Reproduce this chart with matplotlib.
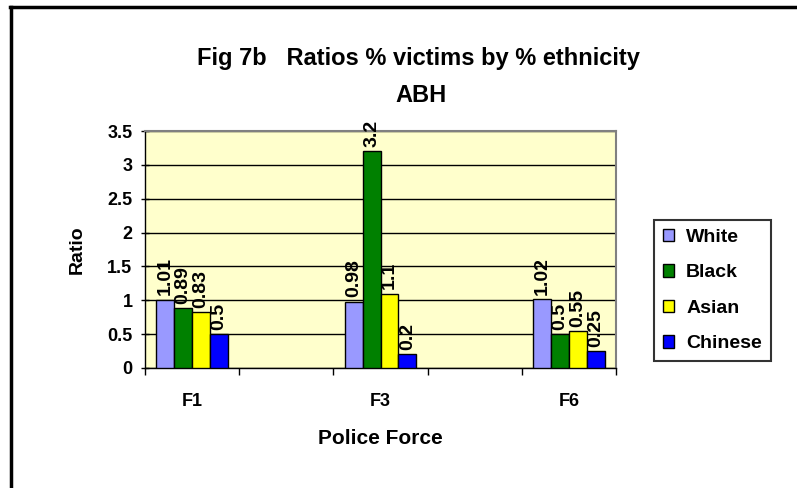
import matplotlib.pyplot as plt
import numpy as np
from matplotlib.patches import Patch
from matplotlib.lines import Line2D

plt.rcParams['font.family'] = ['Liberation Sans', 'DejaVu Sans']
plt.rcParams['font.weight'] = 'bold'

forces = ['F1', 'F3', 'F6']
groups = ['White', 'Black', 'Asian', 'Chinese']
white = [1.01, 0.98, 1.02]
black = [0.89, 3.2, 0.5]
asian = [0.83, 1.1, 0.55]
chinese = [0.5, 0.2, 0.25]
colors = ['#9999FF', '#008000', '#FFFF00', '#0000FF']

fig = plt.figure(figsize=(7.97, 4.88), dpi=100)
ax = fig.add_axes([145 / 797, 1 - 368 / 488, 471 / 797, 237 / 488])
ax.set_facecolor('#FFFFCC')

# each force sits in every other slot, like the original
x = np.arange(len(forces)) * 2
width = 0.19
series = [white, black, asian, chinese]
for i, (vals, col) in enumerate(zip(series, colors)):
    pos = x + (i - 1.5) * width
    ax.bar(pos, vals, width, color=col, edgecolor='black', linewidth=1, zorder=3)
    for p, v in zip(pos, vals):
        ax.annotate('%g' % v, (p, v), xytext=(0, 3), textcoords='offset points',
                    rotation=90, ha='center', va='bottom', fontsize=14,
                    fontweight='bold', zorder=4)

ax.set_xlim(-0.5, 4.5)
ax.set_ylim(0, 3.5)
ax.set_yticks(np.arange(0, 3.51, 0.5))
ax.set_yticklabels(['0', '0.5', '1', '1.5', '2', '2.5', '3', '3.5'])
ax.yaxis.grid(True, color='black', linewidth=1, zorder=1)
ax.set_xticks(x)
ax.set_xticklabels(forces)
ax.set_xticks(np.arange(-0.5, 4.6, 1), minor=True)
ax.tick_params(axis='x', which='major', length=0, pad=18, labelsize=13)
ax.tick_params(axis='x', which='minor', length=5, width=1, direction='out')
ax.tick_params(axis='y', length=6, width=1, direction='inout', pad=6, labelsize=13)

for s in ['top', 'right']:
    ax.spines[s].set_color('#808080')
    ax.spines[s].set_linewidth(1.5)
for s in ['left', 'bottom']:
    ax.spines[s].set_color('black')
    ax.spines[s].set_linewidth(1)

ax.set_ylabel('Ratio', fontsize=14, fontweight='bold', va='center')
ax.yaxis.set_label_coords((77 - 145) / 471, 0.5)
ax.set_xlabel('Police Force', fontsize=15, fontweight='bold', va='center')
ax.xaxis.set_label_coords(0.5, (368 - 439) / 237)

fig.text(0.525, 1 - 58 / 488, 'Fig 7b   Ratios % victims by % ethnicity',
         ha='center', va='center', fontsize=17, fontweight='bold')
fig.text(0.528, 1 - 95 / 488, 'ABH', ha='center', va='center',
         fontsize=17, fontweight='bold')

handles = [Patch(facecolor=c, edgecolor='black', linewidth=1) for c in colors]
leg = fig.legend(handles, groups, loc='upper left',
                 bbox_to_anchor=(654 / 797, 1 - 220 / 488),
                 frameon=True, fancybox=False, edgecolor='black',
                 fontsize=14, handlelength=0.6, handleheight=0.6,
                 handletextpad=0.6, labelspacing=0.95, borderpad=0.45,
                 borderaxespad=0)
leg.get_frame().set_linewidth(1.5)

# outer chart border (top and left only visible)
fig.add_artist(Line2D([10 / 797, 1], [1 - 7 / 488, 1 - 7 / 488],
                      color='black', linewidth=2.5, transform=fig.transFigure))
fig.add_artist(Line2D([10.5 / 797, 10.5 / 797], [0, 1 - 7 / 488],
                      color='black', linewidth=2.5, transform=fig.transFigure))

fig.savefig('out.png', dpi=100)
